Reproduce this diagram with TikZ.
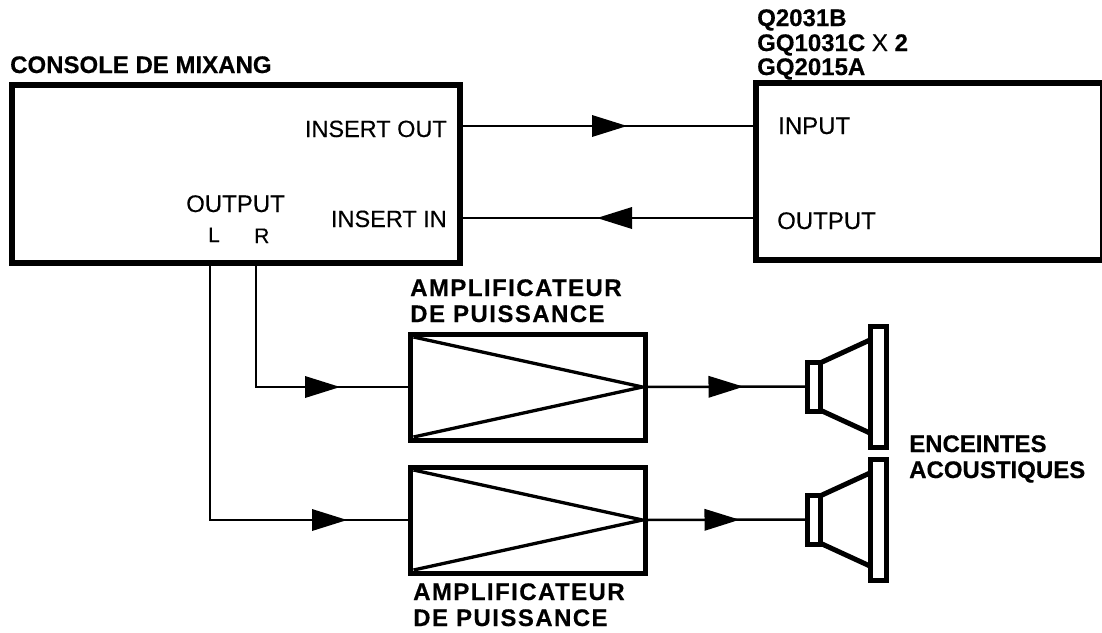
\documentclass[tikz,border=0pt]{standalone}
\usepackage{fontspec}
\setmainfont{Liberation Sans}[FakeBold=0.25,BoldFont={Liberation Sans Bold},BoldFeatures={FakeBold=0.4}]
\newfontfamily\spacedbf{Liberation Sans}[LetterSpace=6,BoldFont={Liberation Sans Bold},BoldFeatures={FakeBold=0.4}]
\usetikzlibrary{arrows.meta,decorations.markings}
\tikzset{
  boxthick/.style={draw,line width=6pt,inner sep=0pt,outer sep=0pt,anchor=north west},
  ampbox/.style={boxthick,line width=5pt,minimum width=235pt,minimum height=106pt},
  spkbox/.style={boxthick,line width=5pt,anchor=west},
  lab/.style={inner sep=0pt,anchor=base west,font=\fontsize{24}{26}\selectfont},
  labr/.style={lab,anchor=base east,font=\fontsize{23.5}{26}\selectfont},
  labs/.style={lab,font=\fontsize{21}{22}\selectfont},
  blab/.style={lab,font=\fontsize{24}{26}\selectfont\bfseries},
  amplab/.style={lab,font=\fontsize{24}{26}\spacedbf\bfseries},
  wire/.style={line width=2.5pt},
  midarrow/.style={postaction={decorate,decoration={markings,mark=at position #1 with {\arrow{Triangle[length=35pt,width=22pt,line width=0pt]}}}}}
}
\begin{document}
\begin{tikzpicture}[x=1pt,y=-1pt,line join=miter]
\useasboundingbox (0,0) rectangle (1102,632);
% --- mixing console and effect unit
\node[boxthick,minimum width=448pt,minimum height=178pt] (console) at (12,85) {};
\node[boxthick,minimum width=347pt,minimum height=177pt] (effect) at (756,83) {};
\node[blab] (consolelab) at (10,73) {CONSOLE DE MIXANG};
\node[labr] (insout) at (447,137) {INSERT OUT};
\node[labr] (insin) at (447,227) {INSERT IN};
\node[lab] (outlab) at (186,212) {OUTPUT};
\node[labs] (llab) at (208,242) {L};
\node[labs] (rlab) at (254,243) {R};
\node[lab] (inlab) at (778,134) {INPUT};
\node[lab] (outlabb) at (777,229) {OUTPUT};
\node[blab] (modela) at (757,26) {Q2031B};
\node[blab] (modelb) at (757,51) {GQ1031C {\mdseries X} 2};
\node[blab] (modelc) at (757,75) {GQ2015A};
% --- power amps
\node[ampbox] (ampa) at (410.5,334) {};
\node[ampbox] (ampb) at (410.5,467) {};
\node[amplab] (ampalab) at (410,296) {AMPLIFICATEUR};
\node[amplab] (ampalabb) at (410,322) {DE PUISSANCE};
\node[amplab] (ampblab) at (413,600) {AMPLIFICATEUR};
\node[amplab] (ampblabb) at (413,626) {DE PUISSANCE};
\coordinate (tipa) at ([xshift=-3pt]ampa.east);
\coordinate (tipb) at ([xshift=-3pt]ampb.east);
\draw[line width=3.3pt] ([shift={(3,3)}]ampa.north west) -- (tipa) -- ([shift={(3,-3)}]ampa.south west);
\draw[line width=3.3pt] ([shift={(3,3)}]ampb.north west) -- (tipb) -- ([shift={(3,-3)}]ampb.south west);
% --- speakers
\foreach \nm/\yc in {spka/386.5,spkb/519.5}{
  \node[spkbox,minimum width=13pt,minimum height=49pt] (\nm) at (807.5,\yc) {};
  \node[spkbox,minimum width=16pt,minimum height=121pt] (\nm plate) at (870.5,\yc) {};
  \draw[line width=5pt] (821,\yc-24) -- (871,\yc-47);
  \draw[line width=5pt] (821,\yc+24) -- (871,\yc+47);
}
\node[blab] (enclab) at (909,452) {ENCEINTES};
\node[blab] (enclabb) at (909,478) {ACOUSTIQUES};
% --- wires
\coordinate (outport) at (460,126);
\coordinate (inport) at (460,218);
\coordinate (lport) at (210,263);
\coordinate (rport) at (256,263);
\draw[wire,midarrow=167pt] (outport) -- (effect.west |- outport);
\draw[wire,midarrow=159pt] (effect.west |- inport) -- (inport);
\draw[wire,midarrow=208pt] (rport) |- (ampa.west);
\draw[wire,midarrow=394pt] (lport) |- (ampb.west);
\draw[wire,midarrow=98pt] (ampa.east) -- (spka.west);
\draw[wire,midarrow=94pt] (ampb.east) -- (spkb.west);
\end{tikzpicture}
\end{document}
